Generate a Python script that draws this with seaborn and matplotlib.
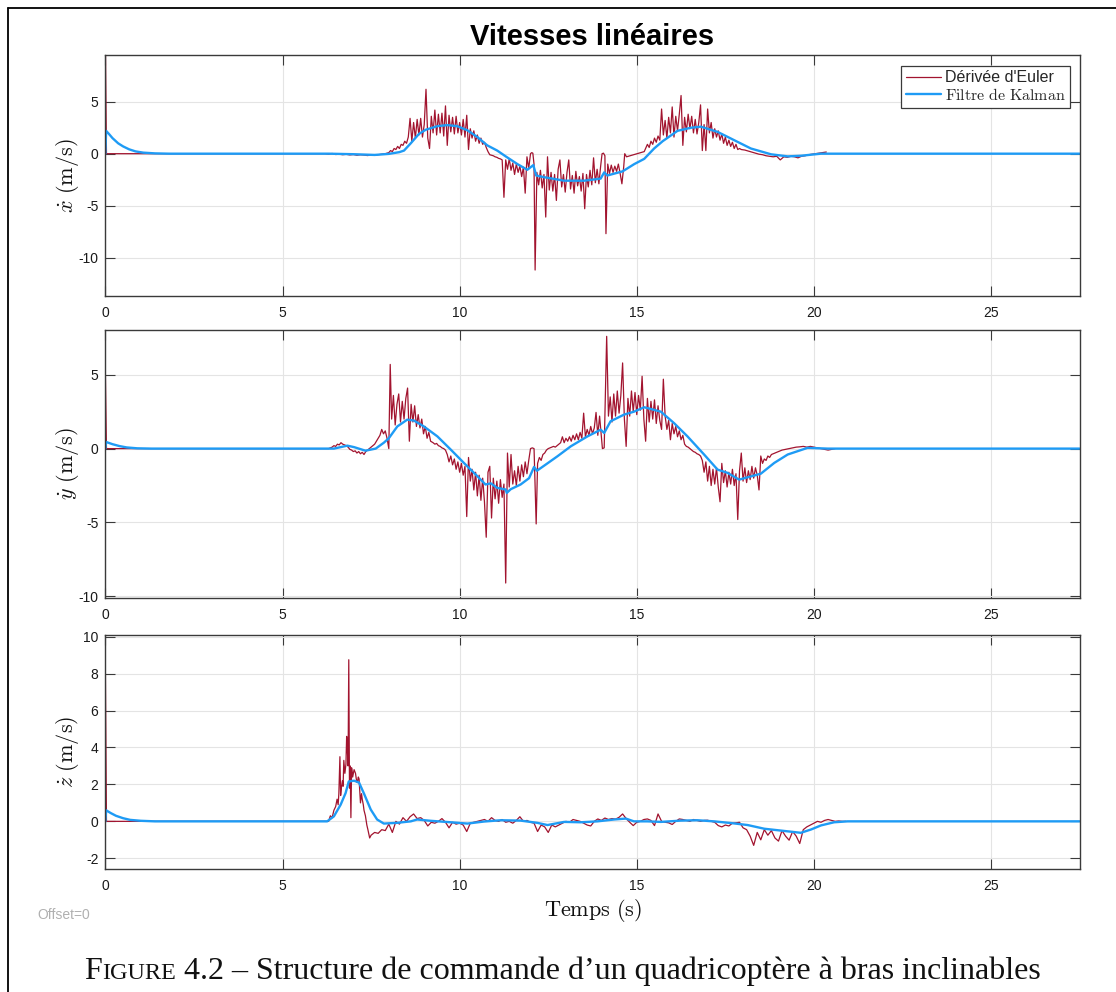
import numpy as np
import pandas as pd
import matplotlib
matplotlib.use("Agg")
import matplotlib.pyplot as plt
import seaborn as sns
from matplotlib.lines import Line2D

# ---------------------------------------------------------------- data
time_ticks = [0, 5, 10, 15, 20, 25]
xdot_ticks = [-10, -5, 0, 5]
ydot_ticks = [-10, -5, 0, 5]
zdot_ticks = [-2, 0, 2, 4, 6, 8, 10]

series_labels = ["Dérivée d'Euler", r"$\mathrm{Filtre\ de\ Kalman}$"]

# Dérivée d'Euler : segments (start time, sample step, values)
xdot_euler_segments = [
    (0.0, 0.03, [10.5, 0.0]),
    (0.1, 3.0, [0.0, 0.0]),
    (6.2, 0.1, [0.0, -0.05, 0.02, -0.08, -0.05, -0.1, -0.06, -0.12, -0.08, -0.15,
                -0.1, -0.13, -0.18, -0.12, -0.15, -0.1, -0.05, 0.0]),
    (8.0, 0.05, [0.1, 0.3, 0.2, 0.5, 0.4, 0.7, 0.5, 0.9, 0.8, 1.2, 1.0, 1.6]),
    (8.6, 0.05, [3.4, 1.2, 3.0, 1.5, 3.3, 1.8, 3.4, 1.6, 2.8, 6.2, 1.5, 0.5, 3.6, 2.0,
                 4.2, 1.8, 3.8, 2.0, 3.9, 1.7, 4.6, 0.8, 3.7, 2.1, 3.5, 1.9, 3.6, 2.0,
                 3.0, 1.8, 3.3, 1.6, 3.7, 0.4]),
    (10.3, 0.05, [2.4, 1.5, 2.2, 1.2, 1.8, 1.0, 1.5, 0.9, 1.1]),
    (10.75, 0.05, [0.6, 0.2, -0.1, -0.15, -0.2, -0.3, -0.35, -0.45, -0.5, -0.6]),
    (11.25, 0.05, [-4.2, -0.6, -1.5, -0.5, -1.6, -0.9, -2.0, -1.0, -1.8, -1.2, -2.2,
                   -1.3, -3.8, -0.3, -1.4]),
    (12.0, 0.033, [0.0, 0.1, 0.05, -1.0]),
    (12.13, 0.05, [-11.2, -1.8, -3.0, -1.6, -3.3, -2.0, -6.1, -0.3, -3.5, -1.8, -3.6,
                   -2.0, -4.5, -1.5, -0.6, -3.2, -2.0, -3.7, -1.8, -0.6, -3.4, -2.1,
                   -3.8, -1.7, -3.1, -2.2, -3.6, -1.9, -5.3, -2.0, -3.2, -1.6, -3.0,
                   -0.4, -2.8, -1.5, -2.9, -1.2]),
    (14.02, 0.04, [0.0, 0.05, -0.2]),
    (14.13, 0.05, [-7.7, -1.0, -1.9, -1.1, -1.8, -1.2, -1.7, -1.0, -1.9, -2.9, -1.3]),
    (14.66, 0.05, [0.0, -0.3, -0.25, -0.2, -0.15, -0.1, -0.05, 0.0, 0.05, 0.1, 0.15, 0.2]),
    (15.25, 0.05, [0.5, 0.9, 0.6, 1.2, 0.9, 1.5, 1.1, 1.7, 1.3]),
    (15.7, 0.05, [4.3, 1.8, 3.2, 1.5, 3.5, 2.0, 4.5, 1.6, 3.6, 2.2, 3.8, 5.6, 0.8, 3.5,
                  2.1, 3.8, 2.4, 3.6, 2.0, 3.3, 1.9, 3.0, 4.7, 0.3, 2.8, 0.3, 4.3, 2.0,
                  3.0]),
    (17.15, 0.05, [1.5, 2.4, 1.6, 2.2, 1.3, 1.9, 1.0, 1.6, 0.8, 1.3, 0.7, 1.1, 0.5, 0.9,
                   0.4, 0.5]),
    (17.95, 0.1, [0.4, 0.35, 0.25, 0.15, 0.05, -0.05, -0.1, -0.2, -0.25]),
    (18.85, 0.1, [-0.3, -0.25, -0.6, -0.3, -0.35, -0.25, -0.3, -0.4, -0.25]),
    (19.75, 0.1, [-0.2, -0.1, -0.05, 0.0, 0.05, 0.1, 0.16]),
]

xdot_kalman_t = [0.0, 0.02, 0.1, 0.2, 0.36, 0.5, 0.67, 0.85, 1.07, 1.4, 1.8, 6.3, 7.0,
                 7.6, 8.0, 8.3, 8.43, 8.62, 8.85, 9.04, 9.37, 9.65, 9.93, 10.22, 10.5,
                 10.78, 11.06, 11.3, 11.63, 11.91, 12.08, 12.16, 12.38, 12.95, 13.51,
                 13.98, 14.08, 14.17, 14.6, 14.93, 15.21, 15.49, 15.73, 16.15, 16.53,
                 16.81, 16.95, 17.28, 17.75, 18.22, 18.79, 19.26, 19.63, 20.2, 27.5]
xdot_kalman_v = [0.0, 2.2, 1.9, 1.5, 1.0, 0.7, 0.42, 0.22, 0.1, 0.03, 0.0, 0.0, -0.05,
                 -0.12, -0.02, 0.15, 0.3, 1.0, 1.9, 2.3, 2.65, 2.75, 2.65, 2.25, 1.6,
                 0.8, 0.3, -0.26, -1.0, -1.55, -1.1, -2.1, -2.26, -2.6, -2.6,
                 -2.4, -1.8, -2.1, -1.7, -1.0, -0.5, 0.5, 1.2, 2.2, 2.5,
                 2.6, 2.45, 2.1, 1.3, 0.5, -0.06, -0.26, -0.2, 0.0, 0.0]

ydot_euler_segments = [
    (0.0, 0.03, [5.0, 0.0]),
    (0.1, 3.0, [0.0, 0.0]),
    (6.25, 0.05, [0.0, 0.0, 0.05, 0.1, 0.2, 0.15, 0.3, 0.25, 0.4, 0.3, 0.25, 0.2, 0.1,
                  -0.05, -0.1, -0.2, -0.15, -0.3, -0.2, -0.35, -0.25, -0.4, -0.2, -0.1,
                  0.0, 0.1, 0.2, 0.3, 0.5, 0.7, 0.9, 1.3, 1.0, 1.2, 0.7]),
    (8.0, 0.04, [0.0, 5.7]),
    (8.08, 0.05, [2.0, 3.6, 1.6, 3.0, 3.7, 1.8, 3.2, 2.0, 3.4, 4.1, 0.5, 3.0, 1.8, 2.9,
                  1.5, 2.3]),
    (8.88, 0.05, [1.4, 2.0, 1.0, 1.5, 0.7, 1.1, 0.5]),
    (9.25, 0.05, [0.4, 0.3, 0.35, 0.2, 0.15, 0.05, 0.0, -0.1]),
    (9.65, 0.05, [-0.4, -0.9, -0.5, -1.1, -0.7, -1.4, -0.9, -1.6, -1.0, -1.8, -1.2]),
    (10.2, 0.05, [-4.6, -0.6, -2.2, -1.4, -2.8, -1.6, -3.2, -1.8, -3.5, -2.0, -3.6, -6.0,
                  -1.6, -1.2, -4.7, -2.0, -3.4, -2.2, -3.7, -2.1, -3.3, -2.4, -9.1]),
    (11.35, 0.05, [-0.3, -2.6, -0.4, -2.4, -1.5, -2.5, -1.2, -2.2, -1.1, -1.9, -0.9,
                   -1.7, -0.8]),
    (12.0, 0.05, [0.0, 0.05, 0.0]),
    (12.16, 0.04, [-5.1]),
    (12.2, 0.05, [-1.0, -0.6, -0.8, -0.4, -0.3, -0.1, 0.0, 0.05, 0.1, 0.15, 0.1, 0.2, 0.3]),
    (12.85, 0.05, [0.4, 0.8, 0.4, 0.7, 0.5, 0.8, 0.5, 0.9, 0.6, 1.0, 0.6, 1.1, 0.7, 2.4,
                   0.8, 1.3, 0.9, 1.5, 1.0, 1.4, 2.45, 0.9, 2.2]),
    (14.03, 0.05, [0.0, 0.05]),
    (14.15, 0.05, [7.6]),
    (14.2, 0.05, [2.2, 3.5, 1.8, 3.7, 2.2, 3.9, 2.4, 3.6, 5.8, 2.0, 0.15, 3.4, 2.2, 3.9,
                  2.5, 3.8, 2.3, 3.6, 2.6, 4.9, 2.0, 0.5]),
    (15.3, 0.05, [3.4, 1.8, 3.2, 2.0, 3.3, 1.7, 2.9, 1.9, 1.3, 4.7]),
    (15.8, 0.05, [2.2, 1.3, 1.9, 0.6, 1.7, 1.0, 1.5, 0.8, 1.2, 0.6, 0.9]),
    (16.35, 0.05, [0.3, 0.15, 0.1, 0.0, -0.1, -0.2, -0.25, -0.35, -0.4, -0.5]),
    (16.85, 0.05, [-0.8, -1.6, -0.9, -2.2, -1.2, -2.5, -1.4, -2.4, -1.3, -2.6, -3.6, -1.0,
                   -2.3, -1.5, -2.6, -1.6, -2.4, -1.4, -2.5, -1.7, -4.8, -1.5, -0.3, -2.2,
                   -1.3, -2.3, -1.5, -2.1, -1.2, -2.0, -1.3, -1.8, -2.8, -0.5]),
    (18.55, 0.05, [-1.0, -0.7, -0.8, -0.5, -0.6, -0.4, -0.35, -0.3]),
    (19.0, 0.1, [-0.2, -0.1, -0.05, 0.0, 0.05, 0.1, 0.12, 0.15, 0.1, 0.15, 0.1, 0.05, 0.0,
                 -0.05, -0.1, -0.05, 0.0]),
]

ydot_kalman_t = [0.0, 0.02, 0.2, 0.4, 0.6, 0.9, 1.3, 6.45, 6.83, 7.02, 7.34, 7.63, 7.86,
                 8.0, 8.24, 8.52, 8.71, 8.99, 9.37, 9.75, 10.12, 10.5, 10.73, 10.88,
                 11.06, 11.3, 11.33, 11.44, 11.72, 11.96, 12.1, 12.18, 12.43, 12.76,
                 13.14, 13.61, 13.98, 14.08, 14.26, 14.64, 14.92, 15.21, 15.68, 16.05,
                 16.43, 16.9, 17.28, 17.56, 17.89, 18.5, 18.88, 19.26, 19.82, 20.39, 27.5]
ydot_kalman_v = [0.0, 0.45, 0.3, 0.17, 0.08, 0.02, 0.0, 0.0, 0.2, 0.1, -0.14, 0.0, 0.4,
                 0.7, 1.5, 1.96, 1.9, 1.5, 0.83, -0.07, -0.97, -1.87, -2.43, -2.35,
                 -2.66, -2.77, -3.0, -2.75, -2.43, -2.0, -1.24, -1.5, -1.08, -0.52,
                 0.16, 0.83, 1.28, 1.06, 1.85, 2.3, 2.5, 2.8, 2.5, 1.73,
                 0.83, -0.4, -1.42, -1.64, -2.1, -1.7, -0.97, -0.4, 0.05, 0.0, 0.0]

zdot_euler_segments = [
    (0.0, 0.03, [8.0, 0.0]),
    (0.1, 3.0, [0.0, 0.0]),
    (7.5, 0.1, [-0.75, -0.6, -0.65, -0.45, -0.5, -0.15, -0.6, 0.0, -0.15, 0.2, 0.0, 0.25,
                0.4, 0.15, 0.2, 0.05, -0.25, -0.05, -0.1, 0.0, 0.15, -0.05, -0.35, -0.05,
                -0.15, -0.1, -0.2, -0.55, -0.1, -0.05, 0.0, 0.05, 0.1, 0.0, 0.2, 0.05,
                0.0, 0.1, -0.05, 0.0, -0.1, 0.05, 0.25, 0.0, 0.05, -0.05, -0.1, -0.55,
                -0.2, -0.3, -0.6, -0.2, -0.3, -0.2, -0.1, 0.0, -0.05, 0.1, 0.05, 0.0,
                -0.1, -0.2, -0.25]),
    (13.8, 0.1, [0.0, 0.13, 0.05, 0.18, 0.1, 0.15, 0.12, 0.22, 0.4, 0.15, -0.05, -0.23,
                 -0.05, 0.0, 0.1, 0.13, 0.05, -0.23, 0.4, 0.0, -0.05, -0.08, -0.17, 0.0,
                 0.13, 0.1, 0.05, 0.0, 0.1, 0.05, 0.0, 0.05, 0.06, 0.0, -0.05, -0.23,
                 -0.3, -0.2, -0.25, -0.1, -0.08, -0.05, -0.35, -0.45, -0.8, -1.3, -0.6,
                 -1.0, -0.45, -0.75, -0.5, -0.9, -1.07, -0.5, -0.8, -1.02, -0.55, -0.8,
                 -1.2, -0.45, -0.3, -0.2, -0.1, 0.0, -0.05, 0.05, 0.1, 0.05, 0.0, 0.02,
                 0.0, 0.0]),
]
zdot_euler_peak_t = [6.30, 6.35, 6.40, 6.45, 6.50, 6.54, 6.57, 6.59, 6.62, 6.64, 6.66,
                     6.69, 6.71, 6.73, 6.76, 6.79, 6.81, 6.83, 6.85, 6.87, 6.89, 6.91,
                     6.93, 6.95, 6.98, 7.02, 7.06, 7.09, 7.11, 7.14, 7.16, 7.20, 7.23,
                     7.25, 7.28, 7.30, 7.34, 7.38, 7.41, 7.46]
zdot_euler_peak_v = [0.0, 0.3, 0.2, 0.6, 0.8, 1.2, 0.9, 1.5, 3.5, 1.4, 1.8, 2.2, 1.9,
                     3.3, 2.6, 3.1, 4.6, 3.9, 3.0, 8.75, 1.8, 3.0, 0.2, 2.9, 2.4, 2.8,
                     2.6, 2.2, 2.1, 2.4, 2.3, 1.0, 1.5, 1.2, 0.9, 0.6, 0.3, -0.2, -0.45,
                     -0.9]

zdot_kalman_t = [0.0, 0.02, 0.15, 0.3, 0.5, 0.7, 1.0, 1.4, 6.26, 6.45, 6.64, 6.78, 6.87,
                 7.02, 7.16, 7.3, 7.49, 7.67, 7.86, 8.24, 8.62, 8.8, 9.18, 9.75, 10.22,
                 10.69, 11.16, 11.72, 12.19, 12.48, 12.95, 13.42, 13.89, 14.36, 14.69,
                 14.92, 15.3, 15.68, 16.24, 16.71, 17.18, 17.65, 18.13, 18.6, 19.07,
                 19.63, 19.92, 20.2, 20.57, 20.95, 27.5]
zdot_kalman_v = [0.0, 0.6, 0.45, 0.3, 0.17, 0.08, 0.03, 0.0, 0.0, 0.27, 0.9, 1.53, 2.16,
                 2.2, 2.1, 1.5, 0.64, 0.1, -0.12, -0.08, 0.0, 0.1, 0.03, -0.05, -0.12,
                 -0.01, 0.06, 0.04, -0.08, -0.2, -0.03, -0.05, 0.0, 0.1, 0.15,
                 0.0, 0.0, -0.03, 0.04, 0.06, 0.0, -0.09, -0.2, -0.4, -0.5,
                 -0.62, -0.44, -0.22, -0.05, 0.0, 0.0]

x_limits = (0, 27.5)
y_limits = [(-13.7, 9.5), (-10.08, 8.03), (-2.58, 10.09)]


def build(segments, extra_t=(), extra_v=()):
    ts, vs = list(extra_t), list(extra_v)
    for t0, step, vals in segments:
        ts.extend(t0 + step * i for i in range(len(vals)))
        vs.extend(vals)
    order = np.argsort(ts, kind="stable")
    return pd.DataFrame({"t": np.asarray(ts)[order], "v": np.asarray(vs)[order]})


euler_frames = [build(xdot_euler_segments), build(ydot_euler_segments),
                build(zdot_euler_segments, zdot_euler_peak_t, zdot_euler_peak_v)]
kalman_frames = [pd.DataFrame({"t": xdot_kalman_t, "v": xdot_kalman_v}),
                 pd.DataFrame({"t": ydot_kalman_t, "v": ydot_kalman_v}),
                 pd.DataFrame({"t": zdot_kalman_t, "v": zdot_kalman_v})]
ylabels = [r"$\dot{x}\ (\mathrm{m/s})$", r"$\dot{y}\ (\mathrm{m/s})$",
           r"$\dot{z}\ (\mathrm{m/s})$"]
yticks = [xdot_ticks, ydot_ticks, zdot_ticks]

# ---------------------------------------------------------------- style
sns.set_theme(style="white")
plt.rcParams["font.family"] = ["Liberation Sans", "DejaVu Sans"]
plt.rcParams["mathtext.fontset"] = "cm"
plt.rcParams["axes.unicode_minus"] = False

RED = "#A2142F"
BLUE = "#1E9BF5"

W, H = 1116, 992
fig = plt.figure(figsize=(W / 100, H / 100), dpi=100)

# axes rectangles in pixel units (left, top, right, bottom)
boxes = [(105.4, 55, 1079.6, 296), (105.4, 330, 1079.6, 597.5), (105.4, 635, 1079.6, 869)]
axes = []
for (l, t, r, b) in boxes:
    axes.append(fig.add_axes([l / W, 1 - b / H, (r - l) / W, (b - t) / H]))

for i, ax in enumerate(axes):
    sns.lineplot(data=euler_frames[i], x="t", y="v", ax=ax, color=RED, lw=0.9,
                 estimator=None, sort=False, label=series_labels[0] if i == 0 else None,
                 legend=False)
    sns.lineplot(data=kalman_frames[i], x="t", y="v", ax=ax, color=BLUE, lw=1.7,
                 estimator=None, sort=False, label=series_labels[1] if i == 0 else None,
                 legend=False)
    ax.set_xlim(*x_limits)
    ax.set_ylim(*y_limits[i])
    ax.set_xticks(time_ticks)
    ax.set_xticklabels([str(v) for v in time_ticks])
    ax.set_yticks(yticks[i])
    ax.set_yticklabels([str(v) for v in yticks[i]])
    ax.grid(True, color="#e4e4e4", lw=0.8)
    ax.set_axisbelow(True)
    for s in ax.spines.values():
        s.set_visible(True)
        s.set_color("#3a3a3a")
        s.set_linewidth(1.0)
    ax.tick_params(axis="both", which="both", direction="in", top=True, right=True,
                   bottom=True, left=True, length=7, width=0.8, color="#3a3a3a",
                   labelsize=10, labelcolor="#1a1a1a")
    ax.tick_params(axis="x", pad=7.5)
    ax.tick_params(axis="y", pad=5)
    ax.set_xlabel("")
    ax.set_ylabel(ylabels[i], fontsize=16, color="#111111")
    ax.yaxis.set_label_coords(-0.025, 0.5)

axes[2].set_xlabel(r"$\mathrm{Temps\ (s)}$", fontsize=16, color="#111111")
axes[2].xaxis.set_label_coords(0.5, -0.118)

leg = axes[0].legend(loc="upper right", bbox_to_anchor=(0.9906, 0.9556),
                     borderaxespad=0, fontsize=11.5, frameon=True, fancybox=False,
                     framealpha=1, edgecolor="#3a3a3a", handlelength=2.2,
                     handletextpad=0.25, labelspacing=0.1, borderpad=0.3)
leg.get_frame().set_linewidth(0.9)

# title
fig.text(592 / W, 1 - 45 / H, "Vitesses linéaires", ha="center", va="baseline",
         fontsize=21, fontweight="bold", color="black")

# offset note
fig.text(37 / W, 1 - 919 / H, "Offset=0", ha="left", va="baseline", fontsize=10,
         color="#b0b0b0")

# page frame
fig.add_artist(Line2D([7.8 / W, 7.8 / W], [0, 1 - 8.3 / H], transform=fig.transFigure,
                      color="black", lw=1.3))
fig.add_artist(Line2D([7.8 / W, 1], [1 - 8.3 / H, 1 - 8.3 / H], transform=fig.transFigure,
                      color="black", lw=1.3))

# caption with small caps "Figure"
caption_pieces = [("F", 23), ("IGURE", 17.5),
                  (" 4.2 – Structure de commande d’un quadricoptère à bras inclinables", 23)]
renderer = fig.canvas.get_renderer()
cap_texts = []
widths = []
for s, size in caption_pieces:
    tx = fig.text(0, 1 - 979 / H, s, fontsize=size, family=["Liberation Serif", "DejaVu Serif"],
                  ha="left", va="baseline", color="#111111")
    cap_texts.append(tx)
    widths.append(tx.get_window_extent(renderer=renderer).width)
x0 = 562.5 - sum(widths) / 2
for tx, w in zip(cap_texts, widths):
    tx.set_x(x0 / W)
    x0 += w

fig.savefig("out.png", dpi=100)
